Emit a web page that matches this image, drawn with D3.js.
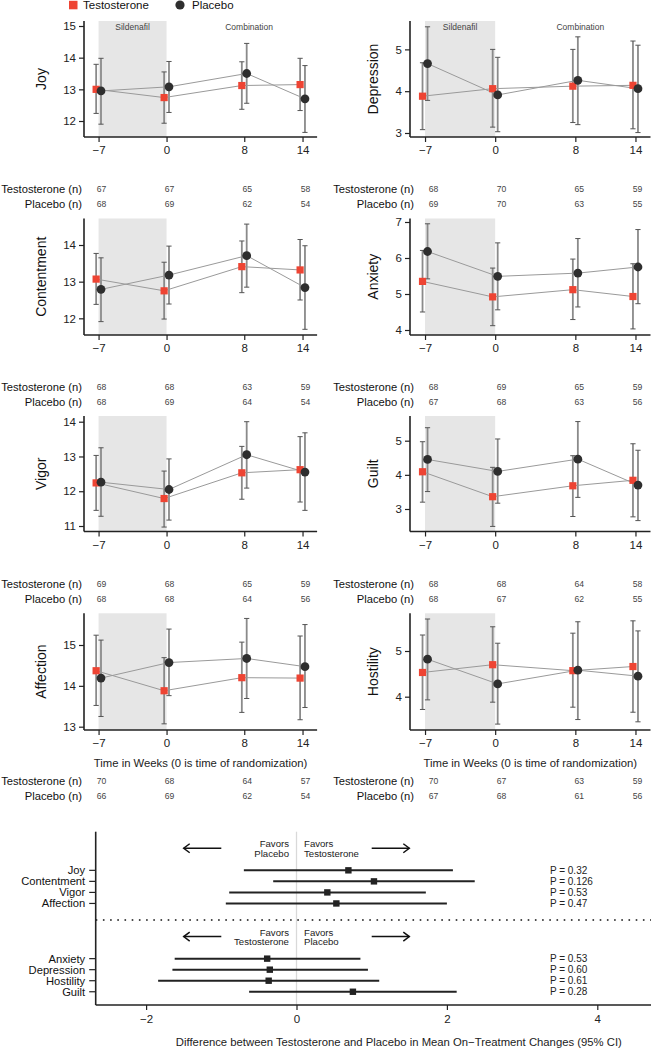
<!DOCTYPE html>
<html><head><meta charset="utf-8">
<script src="https://cdn.jsdelivr.net/npm/d3@7"></script>
<style>body{margin:0;background:#fff}svg{display:block}text{font-family:"Liberation Sans",Arial,sans-serif}</style>
</head><body><div id="chart"></div>
<script>
// ---------------- DATA ----------------
const weeks = [-7, 0, 8, 14];
const groups = ["Testosterone", "Placebo"];
// [mean, lower95, upper95] per week
const joyT = [[13.0,12.24,13.79],[12.74,11.93,13.55],[13.12,12.37,13.87],[13.15,12.33,13.98]];
const joyP = [[12.95,11.9,13.98],[13.08,12.27,13.88],[13.5,12.56,14.45],[12.7,11.64,13.75]];
const depressionT = [[3.88,3.08,4.68],[4.06,3.14,5.0],[4.12,3.25,5.0],[4.14,3.1,5.2]];
const depressionP = [[4.66,3.78,5.54],[3.91,3.03,4.81],[4.26,3.2,5.3],[4.06,3.01,5.1]];
const contentmentT = [[13.07,12.38,13.77],[12.75,11.98,13.53],[13.41,12.7,14.11],[13.32,12.5,14.15]];
const contentmentP = [[12.79,11.91,13.65],[13.18,12.39,13.97],[13.71,12.85,14.57],[12.84,11.7,13.98]];
const anxietyT = [[5.35,4.5,6.21],[4.92,4.12,5.72],[5.12,4.29,5.97],[4.93,4.03,5.84]];
const anxietyP = [[6.18,5.42,6.95],[5.49,4.56,6.42],[5.58,4.64,6.54],[5.75,4.73,6.79]];
const vigorT = [[12.24,11.45,13.03],[11.79,10.97,12.58],[12.53,11.77,13.29],[12.62,11.69,13.57]];
const vigorP = [[12.26,11.28,13.25],[12.05,11.17,12.93],[13.05,12.09,14.0],[12.55,11.45,13.68]];
const guiltT = [[4.09,3.2,4.97],[3.36,2.49,4.22],[3.68,2.78,4.56],[3.84,2.77,4.91]];
const guiltP = [[4.45,3.51,5.38],[4.10,3.17,5.05],[4.46,3.34,5.56],[3.70,2.66,4.72]];
const affectionT = [[14.37,13.52,15.24],[13.88,13.07,14.69],[14.2,13.35,15.07],[14.19,13.17,15.22]];
const affectionP = [[14.19,13.25,15.12],[14.57,13.76,15.39],[14.67,13.69,15.65],[14.47,13.47,15.5]];
const hostilityT = [[4.53,3.72,5.35],[4.70,3.88,5.53],[4.57,3.77,5.39],[4.66,3.66,5.66]];
const hostilityP = [[4.82,3.93,5.70],[4.28,3.40,5.17],[4.58,3.50,5.64],[4.45,3.45,5.44]];
// sample sizes
const joyN = [[67,67,65,58],[68,69,62,54]];
const depressionN = [[68,70,65,59],[69,70,63,55]];
const contentmentN = [[68,68,63,59],[68,69,64,54]];
const anxietyN = [[68,69,65,59],[67,68,63,56]];
const vigorN = [[69,68,65,59],[68,68,64,56]];
const guiltN = [[68,68,64,58],[68,67,62,55]];
const affectionN = [[70,68,64,57],[66,69,62,54]];
const hostilityN = [[70,67,63,59],[67,68,61,56]];
// y tick labels
const joyTicks = [12,13,14,15], depressionTicks = [3,4,5], contentmentTicks = [12,13,14], anxietyTicks = [4,5,6,7];
const vigorTicks = [11,12,13,14], guiltTicks = [3,4,5], affectionTicks = [13,14,15], hostilityTicks = [4,5];
// forest plot
const forestPos = ["Joy","Contentment","Vigor","Affection"];
const forestPosEst = [0.69, 1.03, 0.41, 0.53];
const forestPosLo = [-0.70, -0.31, -0.895, -0.94];
const forestPosHi = [2.08, 2.37, 1.72, 2.0];
const forestPosP = ["P = 0.32","P = 0.126","P = 0.53","P = 0.47"];
const forestNeg = ["Anxiety","Depression","Hostility","Guilt"];
const forestNegEst = [-0.39, -0.355, -0.37, 0.75];
const forestNegLo = [-1.62, -1.65, -1.84, -0.63];
const forestNegHi = [0.85, 0.95, 1.10, 2.13];
const forestNegP = ["P = 0.53","P = 0.60","P = 0.61","P = 0.28"];
const forestTicks = [-2, 0, 2, 4];

// ---------------- DRAW ----------------
const W = 651, H = 1050;
const RED = "#ee4433", DARK = "#2e2e2e";
const svg = d3.select("#chart").append("svg").attr("width", W).attr("height", H);

// legend
svg.append("rect").attr("x", 69).attr("y", 0.8).attr("width", 8.5).attr("height", 8.5).attr("fill", RED);
svg.append("text").attr("x", 83).attr("y", 5).attr("dy", "0.35em").attr("font-size", 11.5).attr("fill", "#111").text(groups[0]);
svg.append("circle").attr("cx", 180).attr("cy", 5).attr("r", 4.6).attr("fill", DARK);
svg.append("text").attr("x", 192).attr("y", 5).attr("dy", "0.35em").attr("font-size", 11.5).attr("fill", "#111").text(groups[1]);

const colRange = [[84, 317.1], [410, 650.5]];
const rowTop = [21, 218.5, 416, 613.3];
const rowBottom = [137, 335, 531.5, 730];
const rowN = [189, 386.7, 584, 780.7];

const panels = [
  {name:"Joy", T:joyT, P:joyP, N:joyN, ticks:joyTicks, col:0, row:0, domain:[11.495,15.158]},
  {name:"Depression", T:depressionT, P:depressionP, N:depressionN, ticks:depressionTicks, col:1, row:0, domain:[2.904,5.679]},
  {name:"Contentment", T:contentmentT, P:contentmentP, N:contentmentN, ticks:contentmentTicks, col:0, row:1, domain:[11.545,14.723]},
  {name:"Anxiety", T:anxietyT, P:anxietyP, N:anxietyN, ticks:anxietyTicks, col:1, row:1, domain:[3.861,7.097]},
  {name:"Vigor", T:vigorT, P:vigorP, N:vigorN, ticks:vigorTicks, col:0, row:2, domain:[10.842,14.164]},
  {name:"Guilt", T:guiltT, P:guiltP, N:guiltN, ticks:guiltTicks, col:1, row:2, domain:[2.341,5.723]},
  {name:"Affection", T:affectionT, P:affectionP, N:affectionN, ticks:affectionTicks, col:0, row:3, domain:[12.919,15.776]},
  {name:"Hostility", T:hostilityT, P:hostilityP, N:hostilityN, ticks:hostilityTicks, col:1, row:3, domain:[3.271,5.825]}
];

const xN = d3.scaleLinear().domain([-8.5, 15.5]).range(colRange[0]);

panels.forEach(p => {
  const top = rowTop[p.row], bottom = rowBottom[p.row];
  const x = d3.scaleLinear().domain([-8.5, 15.5]).range(colRange[p.col]);
  const y = d3.scaleLinear().domain(p.domain).range([bottom, top]);
  const g = svg.append("g");
  const x0 = colRange[p.col][0], x1 = colRange[p.col][1];

  // shaded sildenafil period
  g.append("rect").attr("x", x(weeks[0])).attr("y", top).attr("width", x(weeks[1]) - x(weeks[0]))
    .attr("height", bottom - top).attr("fill", "#e6e6e6");
  if (p.row === 0) {
    g.append("text").attr("x", x(-3.5)).attr("y", top + 6.5).attr("dy", "0.35em").attr("text-anchor", "middle")
      .attr("font-size", 8.5).attr("fill", "#444").text("Sildenafil");
    g.append("text").attr("x", x(8.5)).attr("y", top + 6.5).attr("dy", "0.35em").attr("text-anchor", "middle")
      .attr("font-size", 8.5).attr("fill", "#444").text("Combination");
  }

  // axes
  const ya = g.append("g").attr("transform", `translate(${x0},0)`)
    .call(d3.axisLeft(y).tickValues(p.ticks).tickSize(5).tickPadding(3).tickFormat(d3.format("d")));
  ya.select(".domain").attr("d", `M0,${top}V${bottom}`);
  const xa = g.append("g").attr("transform", `translate(0,${bottom})`)
    .call(d3.axisBottom(x).tickValues(weeks).tickSize(5).tickPadding(4).tickFormat(d => d < 0 ? "\u2212" + Math.abs(d) : d));
  xa.select(".domain").attr("d", `M${x0},0H${x1}`);
  [ya, xa].forEach(a => {
    a.select(".domain").attr("stroke", "#222").attr("stroke-width", 1.6);
    a.selectAll(".tick line").attr("stroke", "#222").attr("stroke-width", 1.2);
    a.selectAll(".tick text").attr("font-size", 11.5).attr("fill", "#222")
      .attr("font-family", '"Liberation Sans",Arial,sans-serif');
  });

  // y title
  g.append("text").attr("transform", `translate(${p.col === 0 ? 41.5 : 373},${(top + bottom) / 2}) rotate(-90)`)
    .attr("text-anchor", "middle").attr("dy", "0.35em").attr("font-size", 14).attr("fill", "#111").text(p.name);

  const series = [{d: p.T, off: -0.25, kind: "T"}, {d: p.P, off: 0.25, kind: "P"}];
  // error bars
  series.forEach(s => {
    s.d.forEach((v, i) => {
      const cx = x(weeks[i] + s.off);
      g.append("line").attr("x1", cx).attr("x2", cx).attr("y1", y(v[1])).attr("y2", y(v[2]))
        .attr("stroke", "#8a8a8a").attr("stroke-width", 1.8);
      [v[1], v[2]].forEach(e => g.append("line").attr("x1", cx - 2.6).attr("x2", cx + 2.6)
        .attr("y1", y(e)).attr("y2", y(e)).attr("stroke", "#555").attr("stroke-width", 1));
    });
  });
  // connecting lines
  series.forEach(s => {
    const line = d3.line().x((v, i) => x(weeks[i] + s.off)).y(v => y(v[0]));
    g.append("path").attr("d", line(s.d)).attr("fill", "none").attr("stroke", "#9a9a9a").attr("stroke-width", 1);
  });
  // points
  series.forEach(s => {
    s.d.forEach((v, i) => {
      const cx = x(weeks[i] + s.off), cy = y(v[0]);
      if (s.kind === "T") g.append("rect").attr("x", cx - 3.6).attr("y", cy - 3.6).attr("width", 7.2).attr("height", 7.2).attr("fill", RED);
      else g.append("circle").attr("cx", cx).attr("cy", cy).attr("r", 4.4).attr("fill", DARK);
    });
  });

  // x title on bottom row
  if (p.row === 3) {
    g.append("text").attr("x", (x0 + x1) / 2).attr("y", 763).attr("dy", "0.35em").attr("text-anchor", "middle")
      .attr("font-size", 11.3).attr("fill", "#222").text("Time in Weeks (0 is time of randomization)");
  }

  // n table
  const lblX = p.col === 0 ? 82 : 414;
  const shift = p.col === 0 ? 3 : 335;
  ["Testosterone (n)", "Placebo (n)"].forEach((lab, k) => {
    const yy = rowN[p.row] + k * 15.3;
    g.append("text").attr("x", lblX).attr("y", yy).attr("dy", "0.35em").attr("text-anchor", "end")
      .attr("font-size", 11.2).attr("fill", "#111").text(lab);
    p.N[k].forEach((n, i) => {
      g.append("text").attr("x", xN(weeks[i]) + shift).attr("y", yy).attr("dy", "0.35em").attr("text-anchor", "middle")
        .attr("font-size", 8.6).attr("fill", "#444").text(n);
    });
  });
});

// ---------------- FOREST PLOT ----------------
const fx = d3.scaleLinear().domain([-2, 4]).range([146.1, 597.3]);
const fTop = 831.7, fBottom = 1005, fLeft = 95.7, fRight = 702;
const fy = d3.scaleLinear().domain([-3.5, 12.2]).range([fTop, fBottom]);
const fg = svg.append("g");

fg.append("line").attr("x1", fx(0)).attr("x2", fx(0)).attr("y1", fTop).attr("y2", fBottom)
  .attr("stroke", "#d9d9d9").attr("stroke-width", 1.3);
fg.append("line").attr("x1", fLeft).attr("x2", W).attr("y1", fy(4.5)).attr("y2", fy(4.5))
  .attr("stroke", "#111").attr("stroke-width", 1.6).attr("stroke-dasharray", "1.6,5.6");

// axes
fg.append("line").attr("x1", fLeft).attr("x2", fLeft).attr("y1", fTop).attr("y2", fBottom).attr("stroke", "#222").attr("stroke-width", 1.6);
const fxa = fg.append("g").attr("transform", `translate(0,${fBottom})`)
  .call(d3.axisBottom(fx).tickValues(forestTicks).tickSize(5).tickPadding(5).tickFormat(d => d < 0 ? "\u2212" + Math.abs(d) : d));
fxa.select(".domain").attr("d", `M${fLeft},0H${fRight}`).attr("stroke", "#222").attr("stroke-width", 1.6);
fxa.selectAll(".tick line").attr("stroke", "#222").attr("stroke-width", 1.2);
fxa.selectAll(".tick text").attr("font-size", 11.5).attr("fill", "#222").attr("font-family", '"Liberation Sans",Arial,sans-serif');
fg.append("text").attr("x", (fLeft + fRight) / 2).attr("y", 1042.5).attr("dy", "0.35em").attr("text-anchor", "middle")
  .attr("font-size", 11.3).attr("fill", "#222").text("Difference between Testosterone and Placebo in Mean On\u2212Treatment Changes (95% CI)");

function forestGroup(labels, est, lo, hi, pv, base, leftTxt, rightTxt) {
  // arrows + favors text
  const ay = fy(base - 2);
  const arrow = (xa, xb, dir) => {
    fg.append("line").attr("x1", fx(xa)).attr("x2", fx(xb)).attr("y1", ay).attr("y2", ay).attr("stroke", "#111").attr("stroke-width", 1.5);
    const tip = fx(xb);
    fg.append("path").attr("d", `M${tip - dir * 6},${ay - 4.5}L${tip},${ay}L${tip - dir * 6},${ay + 4.5}`)
      .attr("fill", "none").attr("stroke", "#111").attr("stroke-width", 1.5);
  };
  arrow(-1.0, -1.5, -1);
  arrow(1.0, 1.5, 1);
  leftTxt.forEach((t, k) => fg.append("text").attr("x", fx(-0.1)).attr("y", fy(base - 2.4 + k * 0.9)).attr("dy", "0.35em")
    .attr("text-anchor", "end").attr("font-size", 9.6).attr("fill", "#222").text(t));
  rightTxt.forEach((t, k) => fg.append("text").attr("x", fx(0.1)).attr("y", fy(base - 2.4 + k * 0.9)).attr("dy", "0.35em")
    .attr("text-anchor", "start").attr("font-size", 9.6).attr("fill", "#222").text(t));
  labels.forEach((lab, i) => {
    const yy = fy(base + i);
    fg.append("line").attr("x1", fLeft - 6.5).attr("x2", fLeft).attr("y1", yy).attr("y2", yy).attr("stroke", "#222").attr("stroke-width", 1.2);
    fg.append("text").attr("x", fLeft - 10.5).attr("y", yy).attr("dy", "0.35em").attr("text-anchor", "end")
      .attr("font-size", 11.2).attr("fill", "#111").text(lab);
    fg.append("line").attr("x1", fx(lo[i])).attr("x2", fx(hi[i])).attr("y1", yy).attr("y2", yy).attr("stroke", "#222").attr("stroke-width", 2);
    fg.append("rect").attr("x", fx(est[i]) - 3.2).attr("y", yy - 3.2).attr("width", 6.4).attr("height", 6.4).attr("fill", "#222");
    fg.append("text").attr("x", fx(3.37)).attr("y", yy).attr("dy", "0.35em").attr("font-size", 10).attr("fill", "#222").text(pv[i]);
  });
}
forestGroup(forestPos, forestPosEst, forestPosLo, forestPosHi, forestPosP, 0, ["Favors", "Placebo"], ["Favors", "Testosterone"]);
forestGroup(forestNeg, forestNegEst, forestNegLo, forestNegHi, forestNegP, 8, ["Favors", "Testosterone"], ["Favors", "Placebo"]);
</script></body></html>
